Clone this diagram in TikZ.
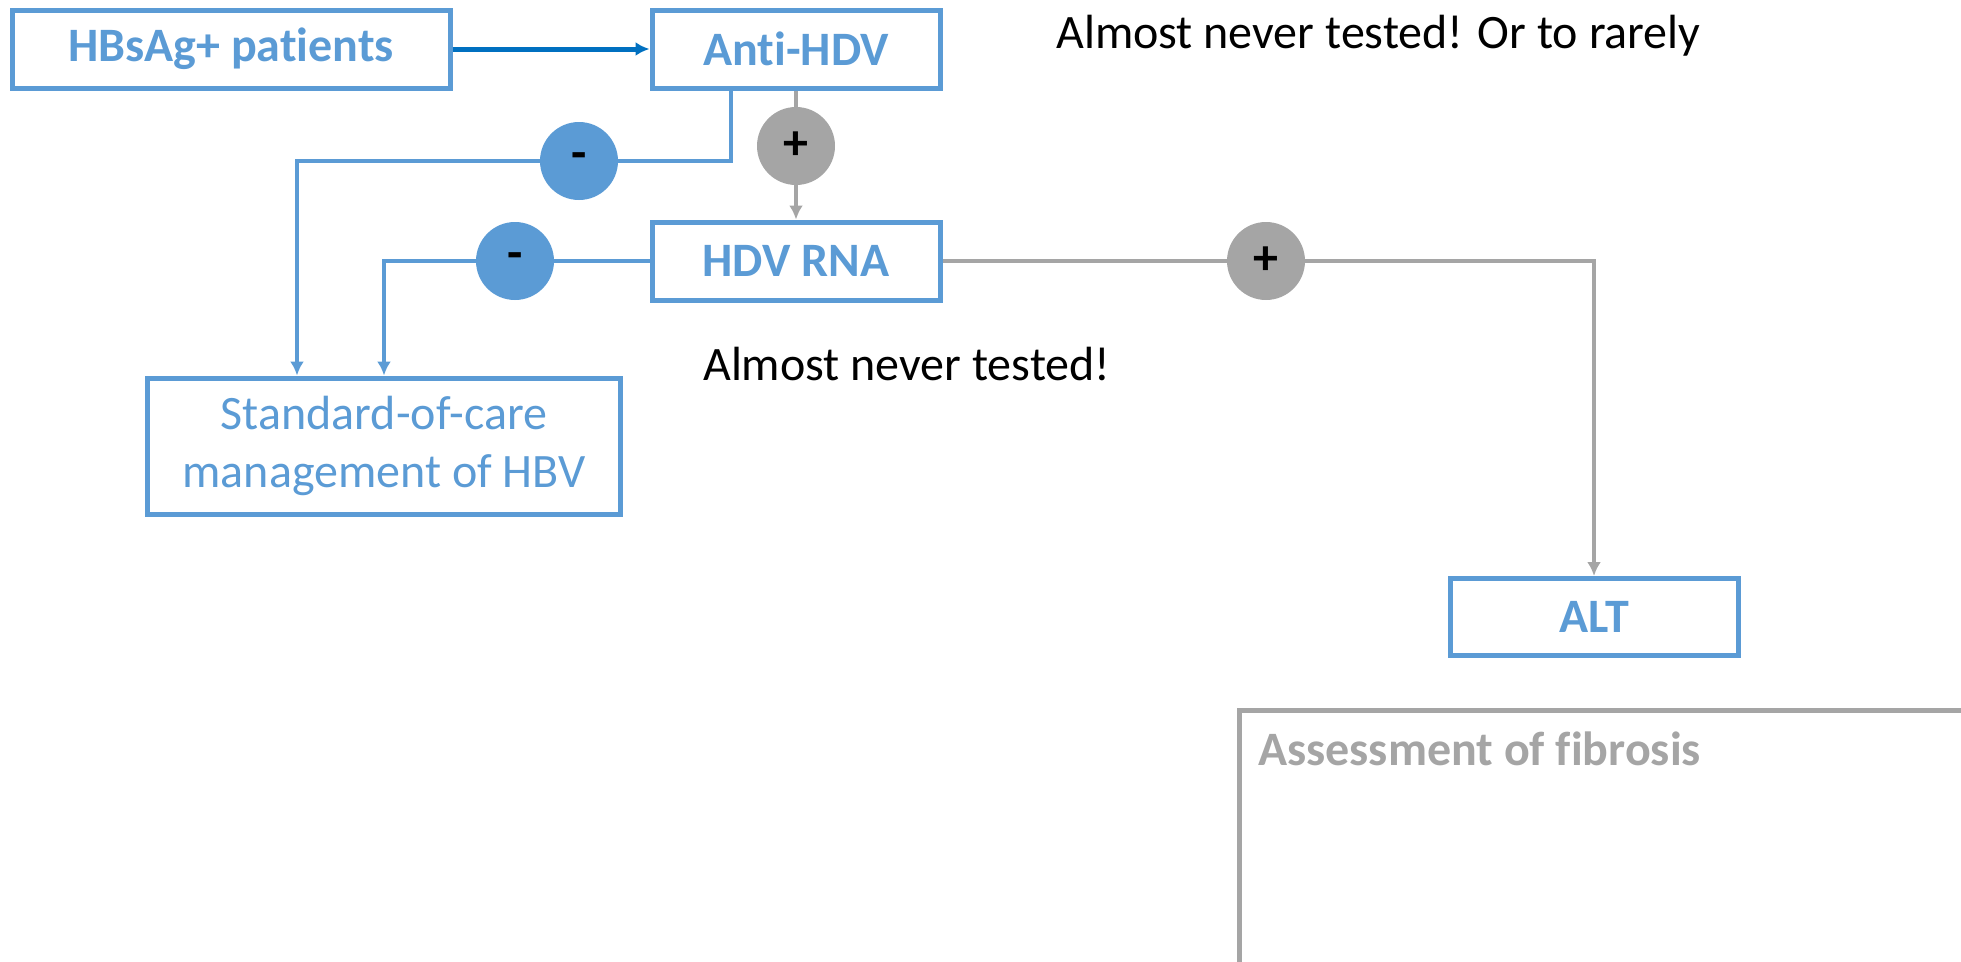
\documentclass[tikz,border=0pt]{standalone}
\usepackage{fontspec}
\setmainfont{Carlito}[Ligatures=NoCommon]
\usepackage{xcolor}
\usetikzlibrary{positioning,arrows.meta,calc}
\definecolor{boxblue}{HTML}{5B9BD5}
\definecolor{darkblue}{HTML}{0070C0}
\definecolor{midgray}{HTML}{A5A5A5}

\begin{document}
\begin{tikzpicture}[x=1pt, y=-1pt, font=\fontsize{48}{56}\selectfont,
        box/.style={draw=boxblue, line width=5pt, align=center, text=boxblue,
                    minimum height=78pt, inner sep=0pt, font=\fontsize{48}{56}\selectfont\bfseries},
        sign/.style={circle, minimum size=78pt, inner sep=0pt, text=black,
                     font=\fontsize{50}{50}\selectfont\bfseries},
        negsign/.style={sign, fill=boxblue},
        possign/.style={sign, fill=midgray},
        note/.style={anchor=west, inner sep=0pt, font=\fontsize{48}{56}\selectfont},
        blueline/.style={draw=boxblue, line width=4pt},
        grayline/.style={draw=midgray, line width=4pt}]
        \useasboundingbox (0,0) rectangle (1961,961);

        \node[box, minimum width=438pt] (hbsag) at (231,49) {HBsAg+ patients};
        \node[box, minimum width=288pt] (anti) at (796,49) {Anti-HDV};
        \node[box, minimum width=288pt] (hdv) at (796,261) {HDV RNA};
        \node[box, minimum width=473pt, minimum height=136pt,
              font=\fontsize{48}{58}\selectfont] (soc) at (384,446) {Standard-of-care\\management of HBV};
        \node[box, minimum width=288pt, minimum height=77pt] (alt) at (1594,617) {ALT};

        \node[negsign] (neg1) at (579,161) {-};
        \node[possign] (pos1) at (796,146) {+};
        \node[negsign] (neg2) at (515,261) {-};
        \node[possign] (pos2) at (1266,261) {+};

        \node[note] (never1) at (1056,36) {Almost never tested! Or to rarely};
        \node[note] (never2) at (703,364) {Almost never tested!};

        % fibrosis panel runs off the page
        \draw[midgray, line width=5pt] (1239,965) -- (1239,710) -- (1965,710);
        \node[anchor=base west, inner sep=0pt, text=midgray,
              font=\fontsize{48}{56}\selectfont\bfseries] (fib) at (1258,765) {Assessment of fibrosis};

        \draw[darkblue, line width=5pt, -{Latex[length=14pt,width=14pt]}] (hbsag.east) -- (anti.west);
        \draw[blueline] ([xshift=-65pt]anti.south) |- (neg1);
        \draw[blueline, -{Latex[length=14pt,width=14pt]}] (neg1) -| ([xshift=-87pt]soc.north);
        \draw[grayline] (anti.south) -- (pos1);
        \draw[grayline, -{Latex[length=14pt,width=14pt]}] (pos1) -- (hdv.north);
        \draw[blueline] (hdv.west) -- (neg2);
        \draw[blueline, -{Latex[length=14pt,width=14pt]}] (neg2) -| (soc.north);
        \draw[grayline] (hdv.east) -- (pos2);
        \draw[grayline, -{Latex[length=14pt,width=14pt]}] (pos2) -| (alt.north);
    \end{tikzpicture}
\end{document}
